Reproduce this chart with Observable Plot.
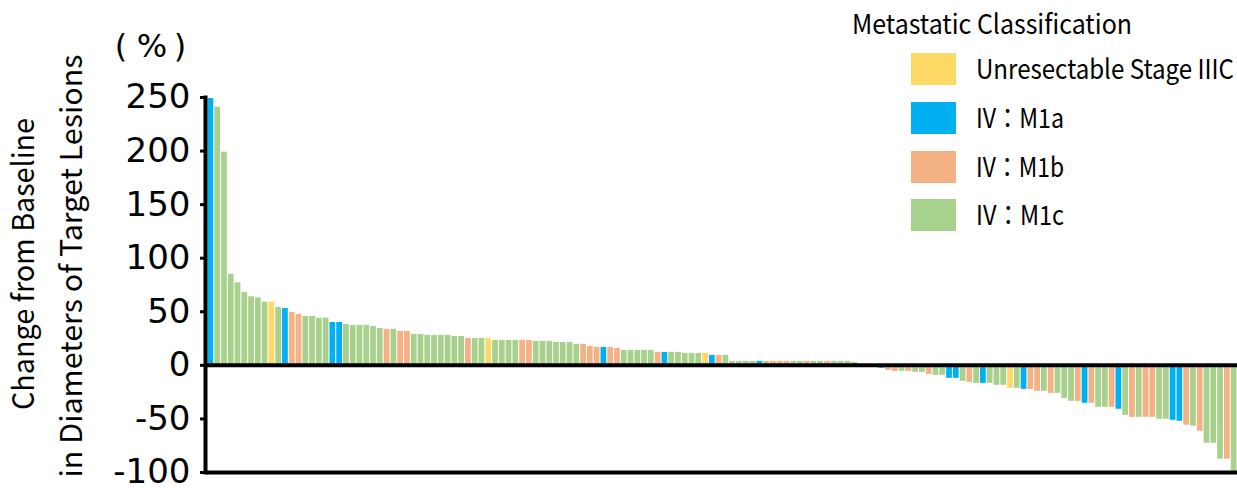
<!DOCTYPE html>
<html><head><meta charset="utf-8">
<script src="https://cdn.jsdelivr.net/npm/d3@7"></script>
<script src="https://cdn.jsdelivr.net/npm/@observablehq/plot@0.6"></script>
<style>body{margin:0;background:#fff;} #chart{position:relative;width:1237px;height:488px;overflow:hidden}</style>
</head><body><div id="chart"></div>
<script>
// Change from baseline (%) per patient, sorted
const values = [249,241,199,85,77,68,64,63,59,59,54,53,49.5,47.5,45.7,45.7,44,44,40,40,
38.2,37.3,37.3,37.3,36.3,34.5,33.6,33.6,31.7,31.7,28.9,28.9,28,28,28,28,27,27,25.2,25.2,
25.2,25.2,23.3,23.3,23.3,23.3,23.3,23.3,22.4,22.4,22.4,21.4,21.4,21.4,19.6,19.6,17.7,16.8,16.8,16.8,
15.8,14,14,14,14,14,12.1,12.1,12.1,12.1,11.2,11.2,11.2,11.2,9.3,9.3,9.3,3.7,3.7,3.7,
3.7,3.7,3.7,3.7,3.7,3.7,3.7,3.7,3.7,3.7,3.7,3.7,3.7,3.7,3.7,2.8,0,0,0,-2.8,
-4.7,-5.6,-5.6,-5.6,-6.5,-6.5,-8.4,-9.3,-9.3,-12.1,-12.1,-14.9,-15.8,-16.8,-16.8,-16.8,-18.6,-18.6,-21.4,-21.4,
-22.4,-22.4,-24.2,-24.2,-26.1,-26.1,-30.8,-33.6,-33.6,-35.4,-35.4,-39.1,-39.1,-39.1,-41,-46.6,-48.5,-48.5,-48.5,-48.5,
-50.3,-50.3,-51.3,-52.2,-55.9,-56.8,-61.5,-72.7,-72.7,-87.6,-87.6,-99];
// Y = Stage IIIC, A = M1a, B = M1b, C = M1c
const classes = ("A C C C C C C C C Y C A B B C C C C A A " +
"C C C C C C B C B B C C C C C C C C B C " +
"C Y C C C C B B C C C C C C C B B B A B " +
"B C C C C C B A C C C C C Y A B C C C C " +
"C A C B B B C C B C C B C C C C C C C A " +
"B B C B C C B C C A A C B C A C C C Y C " +
"A B B C B C C C B A B C C B A C B C B B " +
"C C A A B C B C C C B C").trim().split(/\s+/);
const classCodes = ["Y","A","B","C"];
const classNames = ["Unresectable Stage IIIC","IV：M1a","IV：M1b","IV：M1c"];
const classColors = ["#FFD966","#00B0F0","#F4B183","#A9D18E"];
const yTicks = [-100,-50,0,50,100,150,200,250];
const legendTitle = "Metastatic Classification";
const yLabel1 = "Change from Baseline";
const yLabel2 = "in Diameters of Target Lesions";
const unitParts = ["(", "%", ")"];

const data = values.map((v,i)=>({i, v, c: classNames[classCodes.indexOf(classes[i])]}));
const FONT = "'Noto Sans CJK JP', 'Noto Sans', sans-serif";

const plot = Plot.plot({
  width:1237, height:488, marginLeft:207, marginRight:0, marginTop:97, marginBottom:16,
  style:{fontFamily:FONT, background:"#fff", color:"#000"},
  x:{type:"band", domain:data.map(d=>d.i), paddingInner:0.15, paddingOuter:0.075, axis:null},
  y:{domain:[-100,250]},
  color:{domain:classNames, range:classColors},
  marks:[
    Plot.barY(data,{x:"i", y:"v", fill:"c"}),
    Plot.ruleY([0],{stroke:"#000", strokeWidth:4}),
    Plot.ruleY([-100],{stroke:"#000", strokeWidth:4}),
    Plot.frame({anchor:"left", stroke:"#000", strokeWidth:4, dx:-2}),
    Plot.axisY({ticks:yTicks, tickSize:7, tickPadding:10, fontSize:34, strokeWidth:3,
      fontFamily:"'DejaVu Sans', sans-serif",
      tickFormat:d=>String(d), label:null})
  ]
});
document.getElementById("chart").appendChild(plot);

const svg = d3.select(plot);
const unitX = [121, 152, 180];
unitParts.forEach((p,k)=>{
  svg.append("text").attr("x",unitX[k]).attr("y",57).attr("text-anchor","middle")
    .attr("font-size",32).attr("font-family","'DejaVu Sans', sans-serif").text(p);
});
svg.append("text").attr("transform","translate(34,264) rotate(-90)").attr("text-anchor","middle")
  .attr("font-size",30).attr("font-family",FONT).attr("textLength",292)
  .attr("lengthAdjust","spacingAndGlyphs").text(yLabel1);
svg.append("text").attr("transform","translate(82,266) rotate(-90)").attr("text-anchor","middle")
  .attr("font-size",30).attr("font-family",FONT).attr("textLength",423)
  .attr("lengthAdjust","spacingAndGlyphs").text(yLabel2);

// legend
const lg = svg.append("g").attr("font-family",FONT).attr("text-anchor","start");
lg.append("text").attr("x",852).attr("y",34).attr("font-size",27)
  .attr("textLength",280).attr("lengthAdjust","spacingAndGlyphs").text(legendTitle);
const swatchY = [53,102,151,199];
const labelLen = [258,88,88,88];
classNames.forEach((n,k)=>{
  lg.append("rect").attr("x",911).attr("y",swatchY[k]).attr("width",45).attr("height",32)
    .attr("fill",classColors[k]);
  lg.append("text").attr("x",976).attr("y",swatchY[k]+26).attr("font-size",27)
    .attr("textLength",labelLen[k]).attr("lengthAdjust","spacingAndGlyphs").text(n);
});
</script>
</body></html>
